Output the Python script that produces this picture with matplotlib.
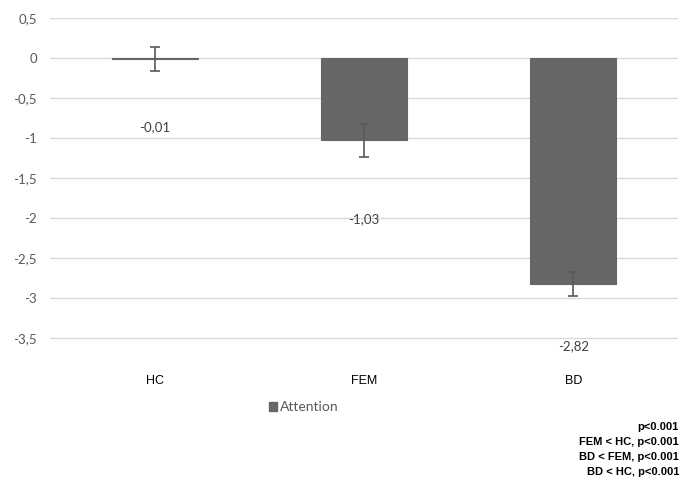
import matplotlib
matplotlib.use("Agg")
import matplotlib.pyplot as plt
from matplotlib.ticker import FuncFormatter
from matplotlib.patches import Patch

# Group means and standard errors for the attention domain
groups = ["HC", "FEM", "BD"]
attention = [-0.01, -1.03, -2.82]
attention_err = [0.15, 0.205, 0.15]
value_labels = ["-0,01", "-1,03", "-2,82"]
y_ticks = [0.5, 0, -0.5, -1, -1.5, -2, -2.5, -3, -3.5]
stats_lines = ["p<0.001", "FEM < HC, p<0.001", "BD < FEM, p<0.001", "BD < HC, p<0.001"]

# vertical offsets of the value labels below each bar end (data units)
label_drop = [-0.86, -0.98, -0.78]

fig = plt.figure(figsize=(6.97, 4.84), dpi=100)
ax = fig.add_axes([50 / 697, 1 - 340 / 484, 628 / 697, 322 / 484])

x = list(range(len(groups)))
bar_color = "#666666"
ax.bar(x, attention, width=0.41, color=bar_color, edgecolor=bar_color,
       linewidth=0.8, zorder=3, label="Attention")
ax.errorbar(x, attention, yerr=attention_err, fmt="none", ecolor="#595959",
            elinewidth=1.2, capsize=3.5, capthick=1.2, zorder=4)

for xi, v, lab, d in zip(x, attention, value_labels, label_drop):
    ax.text(xi, v + d, lab, ha="center", va="center", fontsize=9.5,
            color="#404040", family="Lato")

ax.set_xlim(-0.5, len(groups) - 0.5)
ax.set_ylim(-3.5 - 0.025, 0.5)
ax.set_yticks(y_ticks)
ax.yaxis.set_major_formatter(FuncFormatter(
    lambda v, p: ("%g" % v).replace(".", ",")))
ax.grid(axis="y", color="#d9d9d9", linewidth=1, zorder=0)
for s in ax.spines.values():
    s.set_visible(False)
ax.tick_params(axis="y", length=0, pad=9.5, labelsize=9.5, labelcolor="#595959")
for t in ax.get_yticklabels():
    t.set_family("Lato")
ax.set_xticks([])

# category labels sit at the bottom of the figure area
for xi, g in zip(x, groups):
    ax.annotate(g, xy=(xi, 0), xycoords=("data", "figure pixels"),
                xytext=(0, 484 - 381), textcoords="offset pixels",
                ha="center", va="center", fontsize=9, color="#000000",
                family="Liberation Sans")

leg = fig.legend(handles=[Patch(color=bar_color, label="Attention")],
                 loc="center", bbox_to_anchor=(304 / 697, 1 - 407 / 484),
                 frameon=False, handlelength=0.6, handleheight=0.6,
                 handletextpad=0.2, prop={"family": "Lato", "size": 10})
for t in leg.get_texts():
    t.set_color("#595959")

for i, line in enumerate(stats_lines):
    fig.text(679 / 697, 1 - (427 + 15 * i) / 484, line, ha="right", va="center",
             fontsize=8, fontweight="bold", family="Liberation Sans",
             color="#000000")

fig.savefig("out.png", dpi=100)
